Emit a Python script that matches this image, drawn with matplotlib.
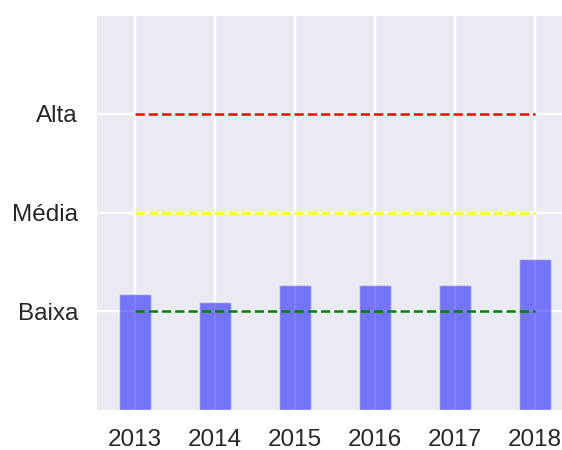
import matplotlib
matplotlib.use("Agg")
import matplotlib.pyplot as plt
import seaborn as sns

sns.set_style("darkgrid")
plt.rcParams['font.family'] = ['Liberation Sans', 'DejaVu Sans']

anos = [2013, 2014, 2015, 2016, 2017, 2018]
valores = [1.17, 1.09, 1.27, 1.27, 1.27, 1.53]
niveis = [1, 2, 3]
nomes_niveis = ['Baixa', 'Média', 'Alta']
cores_niveis = ['g', 'yellow', 'r']

fig = plt.figure(figsize=(5.62, 4.5), dpi=100)
ax = fig.add_axes([96/562, 40/450, 466/562, 395/450])

ax.bar(anos, valores, width=0.4, color='blue', alpha=0.5)

# linhas de referencia
for nivel, cor in zip(niveis, cores_niveis):
    ax.plot([anos[0], anos[-1]], [nivel, nivel], '--', color=cor, linewidth=1.8)

ax.set_xticks(anos)
ax.set_yticks(niveis)
ax.set_yticklabels(nomes_niveis)
ax.set_xlim(2012.515, 2018.34)
ax.set_ylim(0, 4)
ax.grid(True, color='white', linewidth=1.7)
ax.tick_params(axis='both', labelsize=17.5, length=0, colors='#262626')
ax.tick_params(axis='y', pad=13)
ax.tick_params(axis='x', pad=14)

fig.savefig('out.png', dpi=100)
